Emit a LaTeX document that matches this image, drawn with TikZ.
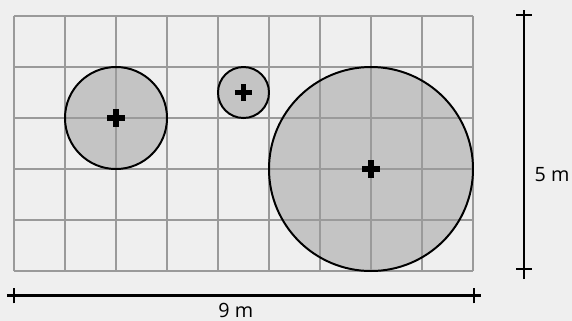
\documentclass[tikz,border=0pt]{standalone}
\usepackage{fontspec}
\setmainfont{Open Sans}
\usepackage{tikz}
\usetikzlibrary{positioning, calc}

\definecolor{bgpaper}{HTML}{EFEFEF}
\definecolor{gridline}{HTML}{9A9A9A}
\definecolor{zonefill}{HTML}{C4C4C4}

\tikzset{
    gridlines/.style={gridline, line width=0.7pt},
    zone/.style={draw=black, line width=1.1pt},
    dimline/.style={black, line width=1.6pt},
    centermark/.style={black, line width=2.9pt},
    dimlabel/.style={font=\fontsize{11}{12}\selectfont, inner sep=0pt}
}

\begin{document}
\begin{tikzpicture}
            \useasboundingbox[fill=bgpaper] (-0.2745,-0.980) rectangle (10.941,5.314);
            % circles first, grid on top
            \foreach \c/\r in {{(2,3)}/1, {(4.5,3.5)}/0.5, {(7,2)}/2} {
                \fill[zonefill] \c circle (\r);
            }
            \draw[gridlines] (0,0) grid (9,5);
            \foreach \c/\r in {{(2,3)}/1, {(4.5,3.5)}/0.5, {(7,2)}/2} {
                \draw[zone] \c circle (\r);
                \draw[centermark] \c ++(-0.17,0) -- ++(0.34,0);
                \draw[centermark] \c ++(0,-0.17) -- ++(0,0.34);
            }
            % dimensions
            \draw[dimline] (-0.14,-0.484) -- (9.16,-0.484);
            \draw[dimline] (0,-0.634) -- (0,-0.334);
            \draw[dimline] (9.02,-0.634) -- (9.02,-0.334);
            \draw[dimline] (10,-0.16) -- (10,5.12);
            \draw[dimline] (9.85,0.04) -- (10.15,0.04);
            \draw[dimline] (9.85,5.02) -- (10.15,5.02);
            \node[dimlabel] (width) at (4.35,-0.77) {9 m};
            \node[dimlabel] (height) at (10.55,1.90) {5 m};
        \end{tikzpicture}
\end{document}
